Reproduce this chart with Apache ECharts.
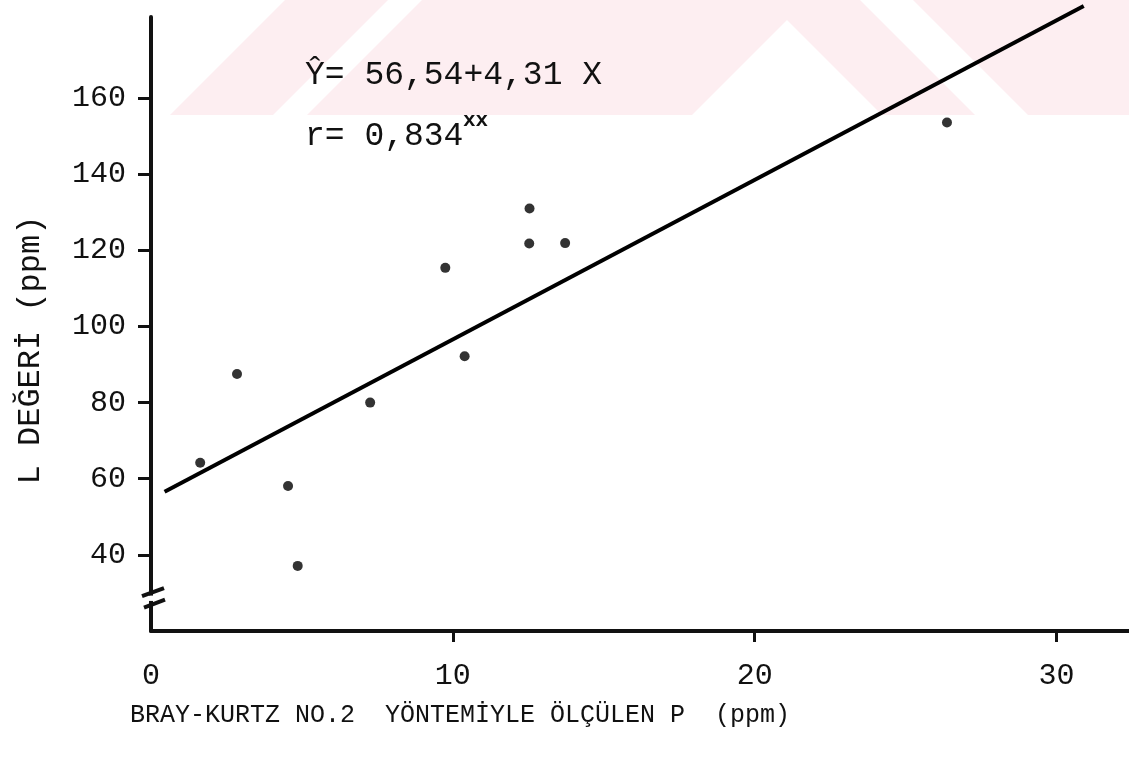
<!DOCTYPE html>
<html>
<head>
<meta charset="utf-8">
<script src="https://cdn.jsdelivr.net/npm/echarts@6/dist/echarts.min.js"></script>
<style>
html,body{margin:0;padding:0;background:#fff;}
#chart{width:1129px;height:759px;}
</style>
</head>
<body>
<div id="chart"></div>
<script>
// ---- data ----
var pointsX = [1.63, 2.85, 4.54, 4.86, 7.26, 9.75, 10.39, 12.54, 12.53, 13.72, 26.37];
var pointsY = [64.2, 87.5, 58.1, 37.1, 80.0, 115.4, 92.2, 131.0, 121.8, 121.9, 153.6];
var lineX = [0.45, 30.9];          // drawn regression line end points
var lineY = [56.6, 184.2];
var xTicks = [10, 20, 30];
var xTickLabels = [0, 10, 20, 30];
var yTicks = [40, 60, 80, 100, 120, 140, 160];
var xName = 'BRAY-KURTZ NO.2  YÖNTEMİYLE ÖLÇÜLEN P  (ppm)';
var yName = 'L DEĞERİ (ppm)';
var eqText = 'Ŷ= 56,54+4,31 X';
var rText = 'r= 0,834';
var rSup = 'xx';

var FONT = "'Liberation Mono', 'DejaVu Sans Mono', monospace";
var INK = '#111';
var PINK = '#fdeef1';

var chart = echarts.init(document.getElementById('chart'), null, {renderer: 'canvas'});

var scatterData = pointsX.map(function (x, i) { return [x, pointsY[i]]; });
var lineData = lineX.map(function (x, i) { return [x, lineY[i]]; });

var option = {
  backgroundColor: '#fff',
  animation: false,
  grid: {left: 151, right: 0, top: 17, bottom: 128, containLabel: false},
  xAxis: {
    type: 'value', min: 0, max: 32.4,
    name: xName, nameLocation: 'middle', nameGap: 72,
    nameTextStyle: {fontFamily: FONT, fontSize: 25, color: INK, padding: [0, 360, 0, 0]},
    axisLine: {show: true, onZero: false, lineStyle: {color: INK, width: 4}},
    axisTick: {show: true, customValues: xTicks, length: 11, lineStyle: {color: INK, width: 3}},
    axisLabel: {customValues: xTickLabels, fontFamily: FONT, fontSize: 30, color: INK, margin: 30},
    splitLine: {show: false}
  },
  yAxis: {
    type: 'value', min: 20, max: 181.3,
    name: yName, nameLocation: 'middle', nameGap: 104, nameRotate: 90,
    nameTextStyle: {fontFamily: FONT, fontSize: 32, color: INK, padding: [0, 52, 0, 0]},
    axisLine: {show: true, onZero: false, lineStyle: {color: INK, width: 4}},
    axisTick: {show: true, customValues: yTicks, length: 13, lineStyle: {color: INK, width: 3}},
    axisLabel: {customValues: yTicks, fontFamily: FONT, fontSize: 30, color: INK, margin: 25},
    splitLine: {show: false}
  },
  series: [
    {
      type: 'line', data: lineData, showSymbol: false, symbol: 'none', clip: false,
      lineStyle: {color: '#000', width: 4}, z: 2
    },
    {
      type: 'scatter', data: scatterData, symbol: 'circle', symbolSize: 10,
      itemStyle: {color: '#000'}, z: 3
    }
  ]
};
chart.setOption(option);

// annotation texts, faint scan watermark and the y-axis break mark
var p30 = chart.convertToPixel({yAxisIndex: 0}, 30.2);
var p27 = chart.convertToPixel({yAxisIndex: 0}, 27.2);
var gapTop = chart.convertToPixel({yAxisIndex: 0}, 29.3);
var gapBot = chart.convertToPixel({yAxisIndex: 0}, 27.9);
var ax = chart.convertToPixel({xAxisIndex: 0}, 0) + 2;

chart.setOption({
  graphic: [
    {type: 'polygon', shape: {points: [[170,115],[273,115],[388,0],[285,0]]}, style: {fill: PINK}, z: -10, silent: true},
    {type: 'polygon', shape: {points: [[307,115],[692,115],[787,20],[882,115],[975,115],[860,0],[422,0]]}, style: {fill: PINK}, z: -10, silent: true},
    {type: 'polygon', shape: {points: [[1028,115],[1129,115],[1129,0],[913,0]]}, style: {fill: PINK}, z: -10, silent: true},
    {type: 'rect', shape: {x: ax - 6, y: gapTop, width: 12, height: gapBot - gapTop}, style: {fill: '#fff'}, z: 100},
    {type: 'line', shape: {x1: ax - 11, y1: p30 + 4, x2: ax + 11, y2: p30 - 4}, style: {stroke: INK, lineWidth: 4}, z: 101},
    {type: 'line', shape: {x1: ax - 9, y1: p27 + 4, x2: ax + 12, y2: p27 - 4}, style: {stroke: INK, lineWidth: 4}, z: 101},
    {type: 'text', left: 305, top: 59, style: {text: eqText, font: '33px ' + FONT, fill: INK}, z: 110},
    {type: 'text', left: 305, top: 120, style: {text: rText, font: '33px ' + FONT, fill: INK}, z: 110},
    {type: 'text', left: 463, top: 110, style: {text: rSup, font: 'bold 21px ' + FONT, fill: INK}, z: 110}
  ]
});
</script>
</body>
</html>
